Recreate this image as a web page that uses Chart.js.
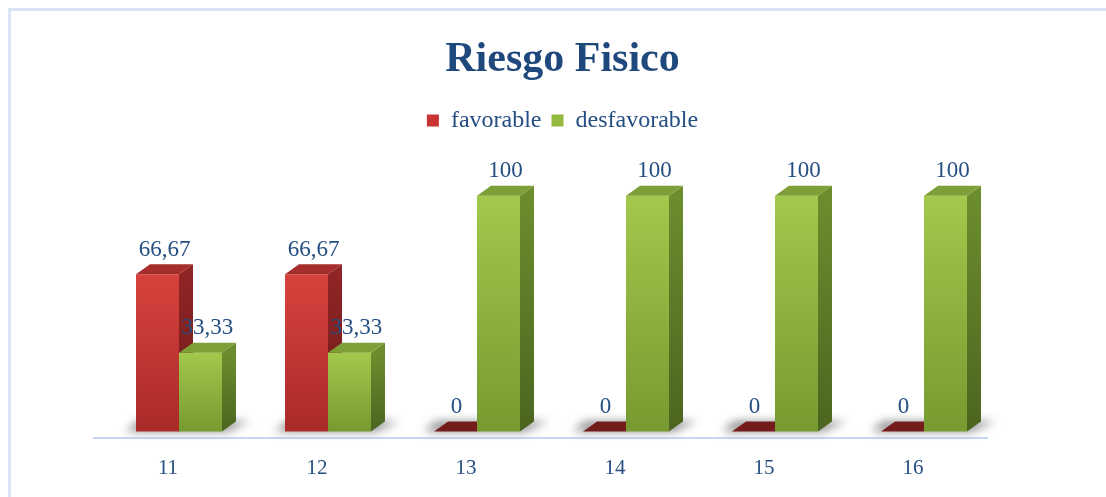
<!DOCTYPE html>
<html lang="es">
<head>
<meta charset="utf-8">
<title>Riesgo Fisico</title>
<script src="https://cdn.jsdelivr.net/npm/chart.js@4.4.0/dist/chart.umd.min.js"></script>
<style>
  html, body { margin: 0; padding: 0; background: #ffffff; }
  #wrap { position: relative; width: 1106px; height: 497px; overflow: hidden; }
  #frame { position: absolute; left: 8px; top: 8px; width: 1200px; height: 600px;
           border-top: 3px solid #dae6f5; border-left: 3px solid #dae6f5; }
  #chart { position: absolute; left: 0; top: 0; }
</style>
</head>
<body>
<div id="wrap">
  <div id="frame"></div>
  <canvas id="chart" width="1106" height="497"></canvas>
</div>
<script>
// Categories and series
const categories = ['11', '12', '13', '14', '15', '16'];
const favorable = [66.67, 66.67, 0, 0, 0, 0];
const desfavorable = [33.33, 33.33, 100, 100, 100, 100];

const TEXT_BLUE = '#254e83';
const SERIF = '"Liberation Serif", "Times New Roman", serif';

// Face colours for the extruded columns
const faces = [
  { frontTop: '#d8423d', frontBottom: '#a92a29', sideTop: '#8f2524', sideBottom: '#6c1b1a', top: '#a52d2b', flat: '#741c1c' },
  { frontTop: '#a2c84c', frontBottom: '#779a30', sideTop: '#6c8d2d', sideBottom: '#4b6520', top: '#7e9f37', flat: '#6f8f2e' }
];
const DEPTH_X = 14, DEPTH_Y = 10, SHIFT = 11;

function fmt(v) { return String(v).replace('.', ','); }

function poly(ctx, pts, fill) {
  ctx.beginPath();
  ctx.moveTo(pts[0][0], pts[0][1]);
  for (let i = 1; i < pts.length; i++) ctx.lineTo(pts[i][0], pts[i][1]);
  ctx.closePath();
  ctx.fillStyle = fill;
  ctx.fill();
}

// Draws the columns as 3D blocks with a floor shadow, then the value labels
const columns3d = {
  id: 'columns3d',
  beforeDatasetsDraw(chart) {
    const ctx = chart.ctx;
    const metas = [chart.getDatasetMeta(0), chart.getDatasetMeta(1)];
    const n = categories.length;

    // floor shadows
    for (let i = 0; i < n; i++) {
      const r = metas[0].data[i], g = metas[1].data[i];
      const left = r.x - r.width / 2 + SHIFT;
      const right = g.x + g.width / 2 + SHIFT;
      const base = r.base;
      ctx.save();
      ctx.filter = 'blur(5px)';
      poly(ctx, [[left - 10, base], [right + 4, base], [right + DEPTH_X + 14, base - DEPTH_Y], [left + 2, base - DEPTH_Y]], 'rgba(60,60,60,0.6)');
      ctx.restore();
    }

    // blocks
    for (let i = 0; i < n; i++) {
      for (let d = 0; d < 2; d++) {
        const bar = metas[d].data[i];
        const f = faces[d];
        const x0 = bar.x - bar.width / 2 + SHIFT;
        const x1 = bar.x + bar.width / 2 + SHIFT;
        const yTop = bar.y, yBase = bar.base;
        const h = yBase - yTop;
        if (h < 1) {
          poly(ctx, [[x0, yBase], [x1, yBase], [x1 + DEPTH_X, yBase - DEPTH_Y], [x0 + DEPTH_X, yBase - DEPTH_Y]], f.flat);
          continue;
        }
        const gf = ctx.createLinearGradient(0, yTop, 0, yBase);
        gf.addColorStop(0, f.frontTop);
        gf.addColorStop(1, f.frontBottom);
        poly(ctx, [[x0, yTop], [x1, yTop], [x1, yBase], [x0, yBase]], gf);
        const gs = ctx.createLinearGradient(0, yTop, 0, yBase);
        gs.addColorStop(0, f.sideTop);
        gs.addColorStop(1, f.sideBottom);
        poly(ctx, [[x1, yTop], [x1 + DEPTH_X, yTop - DEPTH_Y], [x1 + DEPTH_X, yBase - DEPTH_Y], [x1, yBase]], gs);
        poly(ctx, [[x0, yTop], [x1, yTop], [x1 + DEPTH_X, yTop - DEPTH_Y], [x0 + DEPTH_X, yTop - DEPTH_Y]], f.top);
      }
    }

    // value labels
    ctx.save();
    ctx.font = '23px ' + SERIF;
    ctx.fillStyle = TEXT_BLUE;
    ctx.textAlign = 'center';
    ctx.textBaseline = 'bottom';
    for (let d = 0; d < 2; d++) {
      const vals = chart.data.datasets[d].data;
      metas[d].data.forEach((bar, i) => {
        const cx = bar.x + SHIFT + DEPTH_X / 2 - (vals[i] === 0 ? 6 : 0);
        ctx.fillText(fmt(vals[i]), cx, bar.y - DEPTH_Y - 3);
      });
    }
    ctx.restore();
    return false;
  }
};

new Chart(document.getElementById('chart'), {
  type: 'bar',
  data: {
    labels: categories,
    datasets: [
      { label: 'favorable', data: favorable, backgroundColor: '#c93432', yAxisID: 'y' },
      { label: 'desfavorable', data: desfavorable, backgroundColor: '#94ba3e', yAxisID: 'y' }
    ]
  },
  options: {
    responsive: false,
    animation: false,
    events: [],
    layout: { padding: { top: 0, left: 21, right: 2, bottom: -2 } },
    datasets: { bar: { categoryPercentage: 0.577, barPercentage: 1 } },
    plugins: {
      title: {
        display: true,
        text: 'Riesgo Fisico',
        color: '#1f497d',
        font: { family: SERIF, size: 42, weight: 'bold', lineHeight: 1.2 },
        padding: { top: 35, bottom: 13 }
      },
      legend: {
        display: true,
        labels: {
          color: TEXT_BLUE,
          font: { family: SERIF, size: 24 },
          boxWidth: 12,
          boxHeight: 12,
          padding: 10
        }
      },
      tooltip: { enabled: false }
    },
    scales: {
      x: {
        grid: { display: false, drawTicks: false },
        border: { display: true, color: '#c6d9f0', width: 2 },
        ticks: { color: TEXT_BLUE, font: { family: SERIF, size: 21 }, padding: 18 }
      },
      y: {
        position: 'left',
        min: -2.7,
        max: 122.6,
        grid: { display: false, drawTicks: false },
        border: { display: false },
        ticks: { display: false },
        afterFit(scale) { scale.width = 72.5; }
      },
      yRight: {
        position: 'right',
        min: 0,
        max: 1,
        grid: { display: false, drawTicks: false },
        border: { display: false },
        ticks: { display: false },
        afterFit(scale) { scale.width = 116.5; }
      }
    }
  },
  plugins: [columns3d]
});
</script>
</body>
</html>
